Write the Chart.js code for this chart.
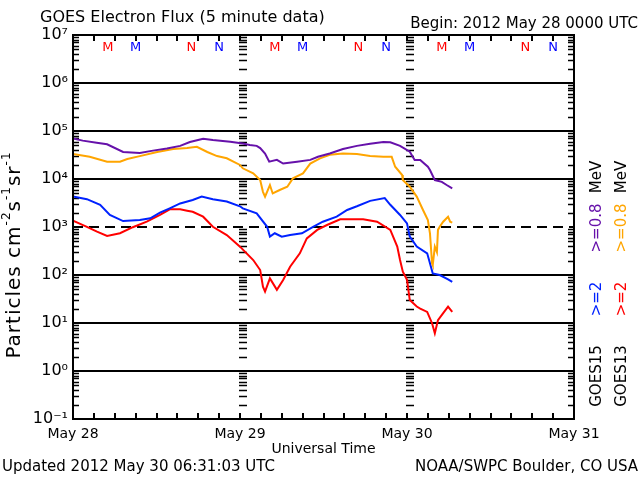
<!DOCTYPE html>
<html>
<head>
<meta charset="utf-8">
<title>GOES Electron Flux</title>
<script src="https://cdn.jsdelivr.net/npm/chart.js@4.4.1/dist/chart.umd.min.js"></script>
<style>
  html, body { margin: 0; padding: 0; background: #fff; }
  canvas { display: block; }
</style>
</head>
<body>
<canvas id="flux-chart" width="640" height="480"></canvas>
<script>
// hours since 2012 May 28 0000 UT
const g15LowHours = [0, 1.4, 3.4, 4.9, 7.2, 9.6, 11.5, 13.5, 15.4, 16.8, 18.7, 20.1, 22.6, 24.4, 25.4, 26.4, 26.9, 27.6, 28.2, 29.3, 30.2, 32.2, 34.1, 35.2, 36.9, 38.8, 40.8, 42.7, 44.6, 45.6, 47.0, 48.4, 49.1, 49.9, 51.0, 51.3, 52.0, 53.0, 53.7, 54.5];
const g15LowFlux = [7.0e4, 6.3e4, 5.7e4, 5.3e4, 3.65e4, 3.5e4, 3.9e4, 4.3e4, 4.9e4, 5.9e4, 6.9e4, 6.5e4, 6.0e4, 5.5e4, 5.1e4, 4.9e4, 4.4e4, 3.4e4, 2.3e4, 2.5e4, 2.1e4, 2.3e4, 2.5e4, 2.9e4, 3.4e4, 4.2e4, 4.9e4, 5.4e4, 5.9e4, 5.8e4, 4.9e4, 3.7e4, 2.5e4, 2.5e4, 1.8e4, 1.54e4, 9.5e3, 8.7e3, 7.5e3, 6.4e3];

const g13LowHours = [0, 2.4, 4.9, 6.75, 7.8, 9.6, 12.1, 14.4, 16.4, 17.8, 19.3, 20.7, 22.1, 24.0, 24.4, 25.9, 26.9, 27.3, 27.6, 28.3, 28.7, 29.7, 30.8, 31.6, 33.05, 34.1, 35.5, 36.9, 38.8, 40.8, 42.7, 44.6, 45.8, 46.3, 47.3, 47.4, 48.4, 49.4, 50.3, 51.0, 51.3, 51.6, 51.7, 52.0, 52.3, 52.45, 52.7, 53.2, 53.9, 54.2, 54.5];
const g13LowFlux = [3.3e4, 2.9e4, 2.3e4, 2.3e4, 2.6e4, 3.0e4, 3.65e4, 4.2e4, 4.4e4, 4.7e4, 3.65e4, 3.0e4, 2.7e4, 1.96e4, 1.67e4, 1.31e4, 9.5e3, 5.4e3, 4.3e3, 7.5e3, 5.0e3, 5.9e3, 6.9e3, 1.03e4, 1.31e4, 2.1e4, 2.7e4, 3.2e4, 3.4e4, 3.3e4, 3.0e4, 2.9e4, 2.9e4, 1.8e4, 1.21e4, 9.5e3, 6.9e3, 4.3e3, 2.26e3, 1.4e3, 740, 175, 160, 390, 300, 870, 1010, 1290, 1640, 1290, 1230];

const g15HighHours = [0, 2.0, 3.9, 5.3, 7.2, 9.6, 11.1, 12.5, 13.9, 15.4, 17.2, 18.5, 20.1, 22.1, 24.0, 24.4, 26.4, 27.9, 28.3, 29.0, 30.0, 31.2, 32.9, 34.5, 35.9, 37.9, 39.4, 40.8, 42.7, 44.8, 45.6, 47.0, 48.0, 48.4, 49.4, 50.9, 51.3, 51.7, 52.7, 53.9, 54.5];
const g15HighFlux = [4.3e3, 3.8e3, 2.9e3, 1.78e3, 1.33e3, 1.4e3, 1.52e3, 1.99e3, 2.45e3, 3.1e3, 3.65e3, 4.3e3, 3.8e3, 3.4e3, 2.7e3, 2.45e3, 1.93e3, 1010, 630, 740, 630, 680, 740, 1010, 1290, 1640, 2260, 2700, 3500, 4000, 2900, 1780, 1190, 630, 390, 283, 175, 108, 100, 81, 72];

const g13HighHours = [0, 2.0, 3.45, 4.9, 6.75, 8.6, 10.6, 12.5, 13.9, 15.4, 16.4, 17.2, 18.7, 20.1, 22.1, 24.0, 25.9, 26.9, 27.3, 27.6, 28.3, 29.3, 30.2, 31.2, 32.6, 33.6, 35.1, 36.5, 38.4, 40.8, 41.7, 43.7, 45.6, 46.6, 47.0, 47.4, 48.0, 48.4, 49.4, 49.9, 50.9, 51.6, 52.0, 52.45, 53.2, 53.9, 54.5];
const g13HighFlux = [1350, 1010, 800, 650, 740, 990, 1290, 1780, 2340, 2340, 2190, 2080, 1640, 1010, 680, 390, 205, 127, 57, 45, 85, 49, 79, 149, 283, 580, 870, 1100, 1450, 1450, 1450, 1290, 870, 390, 205, 117, 79, 30, 22, 20, 17, 9.9, 6.1, 11.5, 16, 22, 17];

// axis ticks
const decades = [-1, 0, 1, 2, 3, 4, 5, 6, 7];
const dayHours = [0, 24, 48, 72];
const dayLabels = ['May 28', 'May 29', 'May 30', 'May 31'];

// local midnight (M) / noon (N) markers for GOES13 (red) and GOES15 (blue)
const markerHours = [5, 9, 17, 21, 29, 33, 41, 45, 53, 57, 65, 69];
const markerLabels = ['M', 'M', 'N', 'N', 'M', 'M', 'N', 'N', 'M', 'M', 'N', 'N'];
const markerColors = ['#ff0000', '#0000ff', '#ff0000', '#0000ff', '#ff0000', '#0000ff', '#ff0000', '#0000ff', '#ff0000', '#0000ff', '#ff0000', '#0000ff'];

const FONT = "'DejaVu Sans', sans-serif";
const supMap = { '-': '\u207b', '0': '\u2070', '1': '\u00b9', '2': '\u00b2', '3': '\u00b3', '4': '\u2074', '5': '\u2075', '6': '\u2076', '7': '\u2077', '8': '\u2078', '9': '\u2079' };
const decadeLabel = v => '10' + String(Math.round(Math.log10(v))).split('').map(c => supMap[c]).join('');

const toPoints = (hours, flux) => hours.map((h, i) => ({ x: h, y: flux[i] }));

// draws text with superscript pieces, centred on (x, y)
const drawRich = (ctx, parts, x, y, size) => {
    let width = 0;
    parts.forEach(([t, sup]) => {
        ctx.font = (sup ? Math.round(size * 0.62) : size) + 'px ' + FONT;
        width += ctx.measureText(t).width;
    });
    let cx = x - width / 2;
    parts.forEach(([t, sup]) => {
        ctx.font = (sup ? Math.round(size * 0.62) : size) + 'px ' + FONT;
        ctx.fillText(t, cx, sup ? y - size * 0.42 : y);
        cx += ctx.measureText(t).width;
    });
};

const drawRotated = (ctx, text, color, x, y, size) => {
    ctx.save();
    ctx.translate(x, y);
    ctx.rotate(-Math.PI / 2);
    ctx.fillStyle = color;
    ctx.font = size + 'px ' + FONT;
    ctx.textAlign = 'center';
    ctx.textBaseline = 'middle';
    ctx.fillText(text, 0, 0);
    ctx.restore();
};

const goesDecor = {
    id: 'goesDecor',
    beforeDatasetsDraw(chart) {
        const { ctx, chartArea: a, scales: { x, y } } = chart;
        ctx.save();
        ctx.strokeStyle = '#000';
        ctx.lineWidth = 2;
        // dashed 10^3 line
        const y3 = Math.round(y.getPixelForValue(1000));
        ctx.setLineDash([10, 6]);
        ctx.beginPath();
        ctx.moveTo(a.left, y3);
        ctx.lineTo(a.right, y3);
        ctx.stroke();
        ctx.setLineDash([]);

        // minor log ticks on both sides and on the day lines
        ctx.lineWidth = 1.5;
        ctx.beginPath();
        for (let n = -1; n < 7; n++) {
            for (let m = 2; m <= 9; m++) {
                const py = Math.round(y.getPixelForValue(m * Math.pow(10, n))) + 0.5;
                ctx.moveTo(a.left, py); ctx.lineTo(a.left + 6, py);
                ctx.moveTo(a.right - 6, py); ctx.lineTo(a.right, py);
                [24, 48].forEach(h => {
                    const px = Math.round(x.getPixelForValue(h));
                    ctx.moveTo(px - 1, py); ctx.lineTo(px + 7, py);
                });
            }
        }
        ctx.stroke();

        // 3-hour ticks top and bottom
        ctx.lineWidth = 2;
        ctx.beginPath();
        for (let h = 3; h < 72; h += 3) {
            const px = Math.round(x.getPixelForValue(h));
            ctx.moveTo(px, a.bottom); ctx.lineTo(px, a.bottom - 6);
            ctx.moveTo(px, a.top); ctx.lineTo(px, a.top + 6);
        }
        ctx.stroke();
        ctx.restore();
    },
    afterDraw(chart) {
        const { ctx, chartArea: a, scales: { x } } = chart;
        ctx.save();
        ctx.strokeStyle = '#000';
        ctx.lineWidth = 2;
        ctx.strokeRect(a.left, a.top, a.right - a.left, a.bottom - a.top);

        ctx.fillStyle = '#000';
        ctx.textBaseline = 'middle';

        ctx.font = '16px ' + FONT;
        ctx.textAlign = 'left';
        ctx.fillText('GOES Electron Flux (5 minute data)', 40, 18);
        ctx.font = '15px ' + FONT;
        ctx.textAlign = 'right';
        ctx.fillText('Begin: 2012 May 28 0000 UTC', 638, 24);

        ctx.font = '15px ' + FONT;
        ctx.textAlign = 'left';
        ctx.fillText('Updated 2012 May 30 06:31:03 UTC', 2, 467);
        ctx.textAlign = 'right';
        ctx.fillText('NOAA/SWPC Boulder, CO USA', 638, 467);

        ctx.font = '14px ' + FONT;
        ctx.textAlign = 'center';
        ctx.fillText('Universal Time', (a.left + a.right) / 2, 449);

        // M / N markers
        ctx.font = '13px ' + FONT;
        markerHours.forEach((h, i) => {
            ctx.fillStyle = markerColors[i];
            ctx.fillText(markerLabels[i], x.getPixelForValue(h), 48);
        });

        // y axis title
        ctx.save();
        ctx.translate(15, 255);
        ctx.rotate(-Math.PI / 2);
        ctx.fillStyle = '#000';
        ctx.textAlign = 'left';
        ctx.letterSpacing = '1px';
        drawRich(ctx, [['Particles cm', false], ['-2', true], ['s', false], ['-1', true], ['sr', false], ['-1', true]], 0, 0, 20);
        ctx.restore();

        // right-hand legend
        drawRotated(ctx, 'GOES15', '#000', 597, 376, 15);
        drawRotated(ctx, '>=2', '#0022ff', 597, 299, 15);
        drawRotated(ctx, '>=0.8', '#6611aa', 597, 228, 15);
        drawRotated(ctx, 'MeV', '#000', 597, 177, 15);
        drawRotated(ctx, 'GOES13', '#000', 622, 376, 15);
        drawRotated(ctx, '>=2', '#ff0000', 622, 299, 15);
        drawRotated(ctx, '>=0.8', '#ffa500', 622, 228, 15);
        drawRotated(ctx, 'MeV', '#000', 622, 177, 15);
        ctx.restore();
    }
};

Chart.defaults.font.family = FONT;
Chart.defaults.color = '#000';

const series = [
    { data: toPoints(g15LowHours, g15LowFlux), color: '#6611aa' },
    { data: toPoints(g13LowHours, g13LowFlux), color: '#ffa500' },
    { data: toPoints(g15HighHours, g15HighFlux), color: '#0022ff' },
    { data: toPoints(g13HighHours, g13HighFlux), color: '#ff0000' }
];

new Chart(document.getElementById('flux-chart').getContext('2d'), {
    type: 'line',
    data: {
        datasets: series.map(s => ({
            data: s.data,
            borderColor: s.color,
            borderWidth: 2,
            pointRadius: 0,
            tension: 0,
            fill: false
        }))
    },
    options: {
        responsive: false,
        animation: false,
        events: [],
        layout: { padding: { top: 35, right: 66, left: 0, bottom: 0 } },
        plugins: { legend: { display: false }, tooltip: { enabled: false } },
        scales: {
            x: {
                type: 'linear',
                min: 0,
                max: 72,
                afterBuildTicks: s => { s.ticks = dayHours.map(v => ({ value: v })); },
                afterFit: s => { s.height = 61; },
                ticks: {
                    autoSkip: false,
                    maxRotation: 0,
                    padding: 7,
                    font: { size: 14 },
                    callback: v => dayLabels[dayHours.indexOf(v)]
                },
                grid: { display: false, drawTicks: false },
                border: { display: false }
            },
            y: {
                type: 'logarithmic',
                min: 0.1,
                max: 1e7,
                afterBuildTicks: s => { s.ticks = decades.map(n => ({ value: Math.pow(10, n) })); },
                afterFit: s => { s.width = 73; },
                ticks: {
                    autoSkip: false,
                    padding: 5,
                    font: { size: 16 },
                    callback: v => decadeLabel(v)
                },
                grid: {
                    drawTicks: false,
                    lineWidth: 2,
                    color: c => (c.tick && c.tick.value === 1000) ? 'rgba(0,0,0,0)' : '#000'
                },
                border: { display: false }
            }
        }
    },
    plugins: [goesDecor]
});
</script>
</body>
</html>
